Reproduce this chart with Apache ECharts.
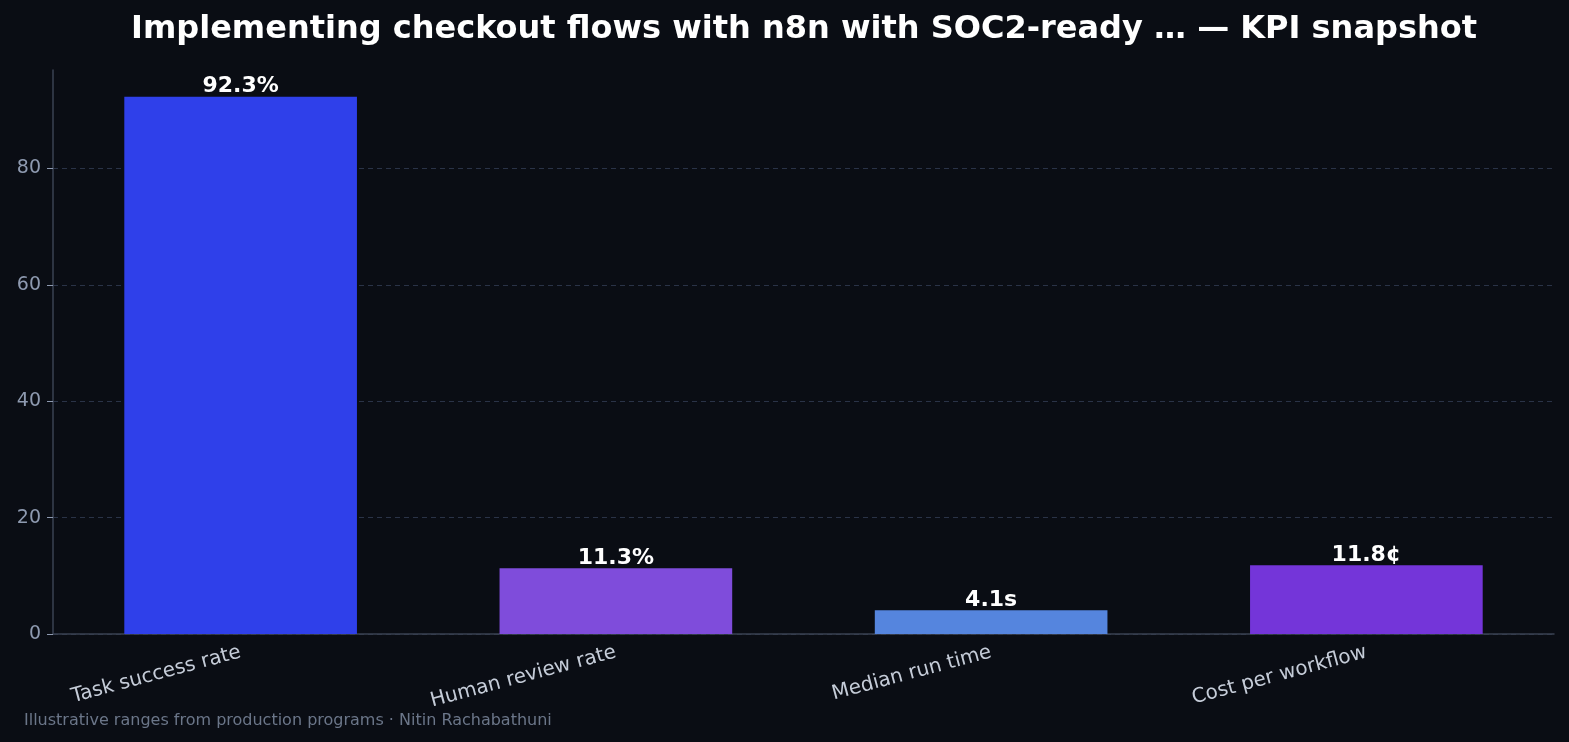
<!DOCTYPE html>
<html><head><meta charset="utf-8">
<script src="https://cdn.jsdelivr.net/npm/echarts@6/dist/echarts.min.js"></script>
<style>html,body{margin:0;padding:0;background:#0a0d14;}#c{width:1569px;height:742px;}</style>
</head><body><div id="c"></div>
<script>
const categories = ["Task success rate", "Human review rate", "Median run time", "Cost per workflow"];
const values = [92.3, 11.3, 4.1, 11.8];
const valueLabels = ["92.3%", "11.3%", "4.1s", "11.8¢"];
const barColors = ["#2f40ea", "#7f4cdb", "#5585de", "#7435d9"];
const yTicks = [0, 20, 40, 60, 80];

const chart = echarts.init(document.getElementById('c'), null, {renderer: 'canvas'});
const F = 'DejaVu Sans';
chart.setOption({
  backgroundColor: '#0a0d14',
  animation: false,
  title: {
    text: 'Implementing checkout flows with n8n with SOC2-ready … — KPI snapshot',
    left: 799, top: 9, textAlign: 'center',
    textStyle: {color: '#ffffff', fontFamily: F, fontWeight: 'bold', fontSize: 32}
  },
  graphic: [{
    type: 'text', left: 24, top: 713,
    style: {text: 'Illustrative ranges from production programs · Nitin Rachabathuni', fill: '#6b7689', font: '16px "DejaVu Sans"'}
  }],
  grid: {left: 53, right: 15, top: 70, bottom: 108, containLabel: false},
  xAxis: {
    type: 'category', data: categories,
    axisLine: {lineStyle: {color: '#3a4252', width: 1.5}},
    axisTick: {alignWithLabel: true, length: 5, lineStyle: {color: '#000000'}},
    axisLabel: {color: '#c5ccd8', fontFamily: F, fontSize: 20, rotate: 15, margin: 18, interval: 0}
  },
  yAxis: {
    type: 'value', min: 0, max: 96.9, interval: 20,
    axisLine: {show: true, lineStyle: {color: '#3a4252', width: 1.5}},
    axisTick: {show: true, length: 6, customValues: yTicks, lineStyle: {color: '#8e9ab0'}},
    axisLabel: {color: '#8e9ab0', fontFamily: F, fontSize: 19, margin: 12, customValues: yTicks},
    splitLine: {lineStyle: {color: '#2a3347', type: [5, 4], width: 1}}
  },
  series: [{
    type: 'bar', barWidth: '62%',
    data: values.map((v, i) => ({value: v, itemStyle: {color: barColors[i]}})),
    label: {show: true, position: 'top', distance: -1, color: '#ffffff', fontFamily: F, fontWeight: 'bold', fontSize: 22,
      formatter: p => valueLabels[p.dataIndex]}
  }]
});
</script></body></html>
